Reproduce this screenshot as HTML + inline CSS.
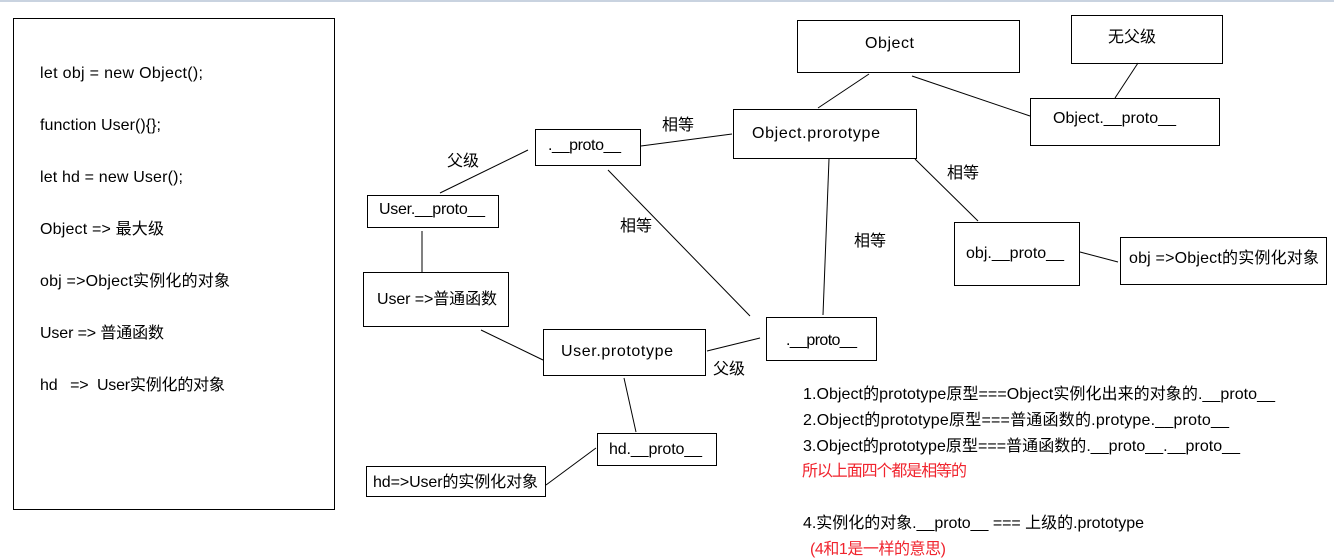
<!DOCTYPE html>
<html><head><meta charset="utf-8"><style>
html,body{margin:0;padding:0;background:#fff;width:1334px;height:558px;overflow:hidden}
svg{display:block}
text{font-family:"Liberation Sans","Noto Sans CJK SC",sans-serif;font-size:16px;fill:#000}
.r{fill:#f0242e}
</style></head><body>
<svg width="1334" height="558" xmlns="http://www.w3.org/2000/svg">
<rect x="0" y="0" width="1334" height="2" fill="#c9d3e0"/>
<g fill="none" stroke="#000" stroke-width="1">
<rect x="13.5" y="18.5" width="321" height="491"/>
<rect x="797.5" y="20.5" width="222" height="52"/>
<rect x="1071.5" y="15.5" width="151" height="48"/>
<rect x="1030.5" y="98.5" width="189" height="47"/>
<rect x="733.5" y="109.5" width="183" height="49"/>
<rect x="535.5" y="129.5" width="105" height="36"/>
<rect x="367.5" y="195.5" width="131" height="32"/>
<rect x="363.5" y="272.5" width="145" height="54"/>
<rect x="543.5" y="329.5" width="162" height="46"/>
<rect x="766.5" y="317.5" width="110" height="43"/>
<rect x="954.5" y="222.5" width="125" height="63"/>
<rect x="1120.5" y="237.5" width="206" height="47"/>
<rect x="597.5" y="433.5" width="119" height="32"/>
<rect x="366.5" y="466.5" width="179" height="30"/>
<line x1="869" y1="74" x2="818" y2="108"/>
<line x1="912" y1="76" x2="1030" y2="116"/>
<line x1="1138" y1="63" x2="1115" y2="98"/>
<line x1="641" y1="146" x2="732" y2="134"/>
<line x1="528" y1="150" x2="440" y2="193"/>
<line x1="422" y1="231" x2="422" y2="272"/>
<line x1="608" y1="170" x2="750" y2="316"/>
<line x1="829" y1="159" x2="823" y2="315"/>
<line x1="915" y1="159" x2="978" y2="221"/>
<line x1="1080" y1="252" x2="1118" y2="262"/>
<line x1="481" y1="330" x2="543" y2="360"/>
<line x1="707" y1="351" x2="760" y2="338"/>
<line x1="624" y1="378" x2="636" y2="432"/>
<line x1="596" y1="448" x2="546" y2="485"/>
</g>
<text x="40" y="78" textLength="163">let obj = new Object();</text>
<text x="40" y="130" textLength="121">function User(){};</text>
<text x="40" y="182" textLength="143">let hd = new User();</text>
<text x="40" y="234" textLength="124">Object =&gt; 最大级</text>
<text x="40" y="286" textLength="190">obj =&gt;Object实例化的对象</text>
<text x="40" y="338" textLength="124">User =&gt; 普通函数</text>
<text x="40" y="390" xml:space="preserve" textLength="185">hd   =&gt;  User实例化的对象</text>
<text x="865" y="48" textLength="49">Object</text>
<text x="1108" y="42">无父级</text>
<text x="1053" y="123" textLength="123">Object.__proto__</text>
<text x="752" y="138" textLength="128">Object.prorotype</text>
<text x="548" y="150" textLength="73">.__proto__</text>
<text x="379" y="214" textLength="106">User.__proto__</text>
<text x="377" y="304" textLength="120">User =&gt;普通函数</text>
<text x="561" y="356" textLength="112">User.prototype</text>
<text x="786" y="345" textLength="71">.__proto__</text>
<text x="966" y="258" textLength="98">obj.__proto__</text>
<text x="1129" y="263" textLength="190">obj =&gt;Object的实例化对象</text>
<text x="609" y="454" textLength="93">hd.__proto__</text>
<text x="373" y="487" textLength="165">hd=&gt;User的实例化对象</text>
<text x="662" y="130">相等</text>
<text x="447" y="166">父级</text>
<text x="620" y="231">相等</text>
<text x="947" y="178">相等</text>
<text x="854" y="246">相等</text>
<text x="713" y="374">父级</text>
<text x="803" y="399" textLength="472">1.Object的prototype原型===Object实例化出来的对象的.__proto__</text>
<text x="803" y="425" textLength="426">2.Object的prototype原型===普通函数的.protype.__proto__</text>
<text x="803" y="451" textLength="437">3.Object的prototype原型===普通函数的.__proto__.__proto__</text>
<text x="802" y="476" class="r" textLength="165">所以上面四个都是相等的</text>
<text x="803" y="528" textLength="341">4.实例化的对象.__proto__ === 上级的.prototype</text>
<text x="810" y="554" class="r" textLength="136">(4和1是一样的意思)</text>
</svg>
</body></html>
